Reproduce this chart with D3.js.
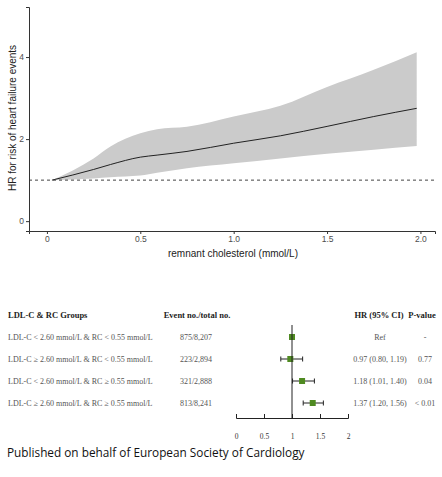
<!DOCTYPE html>
<html><head><meta charset="utf-8">
<script src="https://cdn.jsdelivr.net/npm/d3@7"></script>
<style>body{margin:0;background:#fff;}svg{display:block;}</style>
</head><body>
<svg id="chart" width="442" height="477"></svg>
<script>
// Spline curve data (remnant cholesterol vs HR)
const rcX     = [0.027, 0.25, 0.34, 0.5, 0.59, 0.75, 1.0, 1.25, 1.5, 1.75, 1.98];
const hrLine  = [1.00, 1.26, 1.38, 1.56, 1.61, 1.70, 1.90, 2.08, 2.31, 2.55, 2.75];
const hrUpper = [1.00, 1.53, 1.82, 2.14, 2.24, 2.30, 2.55, 2.81, 3.27, 3.69, 4.12];
const hrLower = [1.00, 1.04, 1.07, 1.11, 1.18, 1.29, 1.41, 1.53, 1.64, 1.74, 1.83];
const xTicks = [0, 0.5, 1.0, 1.5, 2.0];
const yTicks = [0, 2, 4];

// Forest plot data
const groups = ["LDL-C < 2.60 mmol/L & RC < 0.55 mmol/L",
                "LDL-C \u2265 2.60 mmol/L & RC < 0.55 mmol/L",
                "LDL-C < 2.60 mmol/L & RC \u2265 0.55 mmol/L",
                "LDL-C \u2265 2.60 mmol/L & RC \u2265 0.55 mmol/L"];
const events = ["875/8,207", "223/2,894", "321/2,888", "813/8,241"];
const hr     = [1.00, 0.97, 1.18, 1.37];
const ciLow  = [null, 0.80, 1.01, 1.20];
const ciHigh = [null, 1.19, 1.40, 1.56];
const hrText = ["Ref", "0.97 (0.80, 1.19)", "1.18 (1.01, 1.40)", "1.37 (1.20, 1.56)"];
const pText  = ["-", "0.77", "0.04", "< 0.01"];
const forestTicks = [0, 0.5, 1, 1.5, 2];

const svg = d3.select("#chart");

// ---------- Top spline plot ----------
const x = d3.scaleLinear().domain([-0.096, 2.078]).range([29, 435]);
const y = d3.scaleLinear().domain([-0.24, 5.22]).range([231, 7]);

const pts = rcX.map((v,i)=>({x:v, m:hrLine[i], lo:hrLower[i], hi:hrUpper[i]}));
svg.append("path").datum(pts)
  .attr("d", d3.area().x(d=>x(d.x)).y0(d=>y(d.lo)).y1(d=>y(d.hi)).curve(d3.curveMonotoneX))
  .attr("fill", "#cbcbcb");
svg.append("path").datum(pts)
  .attr("d", d3.line().x(d=>x(d.x)).y(d=>y(d.m)).curve(d3.curveMonotoneX))
  .attr("fill", "none").attr("stroke", "#222").attr("stroke-width", 1);

svg.append("line")
  .attr("x1", x.range()[0]).attr("x2", x.range()[1])
  .attr("y1", y(1)).attr("y2", y(1))
  .attr("stroke", "#444").attr("stroke-width", 1).attr("stroke-dasharray", "3,3");

const xAxis = svg.append("g").attr("transform", `translate(0,${y.range()[0]})`)
  .call(d3.axisBottom(x).tickValues(xTicks).tickFormat(d3.format(".1f")).tickSizeOuter(0).tickSize(3).tickPadding(2));
const yAxis = svg.append("g").attr("transform", `translate(${x.range()[0]},0)`)
  .call(d3.axisLeft(y).tickValues(yTicks).tickFormat(d3.format("d")).tickSizeOuter(0).tickSize(3).tickPadding(2));
[xAxis, yAxis].forEach(a=>{
  a.select(".domain").attr("stroke", "#333").attr("stroke-width", 1);
  a.selectAll(".tick line").attr("stroke", "#333");
  a.selectAll(".tick text").attr("fill", "#4d4d4d").attr("font-family", "Liberation Sans, Arial, sans-serif").attr("font-size", 8.5);
});
xAxis.select(".tick text").text("0");

svg.append("text").attr("x", 233).attr("y", 257).attr("text-anchor", "middle")
  .attr("font-family", "Liberation Sans, Arial, sans-serif").attr("font-size", 10).attr("fill", "#222")
  .text("remnant cholesterol (mmol/L)");
svg.append("text").attr("transform", "translate(15.5,118) rotate(-90)").attr("text-anchor", "middle")
  .attr("font-family", "Liberation Sans, Arial, sans-serif").attr("font-size", 10).attr("fill", "#222")
  .text("HR for risk of heart failure events");

// ---------- Forest plot ----------
const serif = "Liberation Serif, Times New Roman, serif";
const fx = d3.scaleLinear().domain([0, 2]).range([236, 348]);
const fy = d3.scalePoint().domain(d3.range(groups.length)).range([337, 403]);
const headY = 318;

const head = [["LDL-C & RC Groups", 8, "start"], ["Event no./total no.", 197, "middle"],
              ["HR (95% CI)", 379, "middle"], ["P-value", 422, "middle"]];
head.forEach(h=>svg.append("text").attr("x", h[1]).attr("y", headY).attr("text-anchor", h[2])
  .attr("font-family", serif).attr("font-weight", "bold").attr("font-size", 8.5).attr("fill", "#222").text(h[0]));

const rowData = groups.map((g,i)=>({i, g, ev:events[i], hr:hr[i], lo:ciLow[i], hi:ciHigh[i], ht:hrText[i], p:pText[i]}));
const rows = svg.append("g").selectAll("g").data(rowData).join("g");
const txt = (sel, xx, anchor, f) => sel.append("text").attr("x", xx).attr("y", d=>fy(d.i)+3)
  .attr("text-anchor", anchor).attr("font-family", serif).attr("font-size", 8).attr("fill", "#555").text(f);
txt(rows, 8, "start", d=>d.g);
txt(rows, 196, "middle", d=>d.ev);
txt(rows, 380, "middle", d=>d.ht);
txt(rows, 425, "middle", d=>d.p);

// reference line
svg.append("line").attr("x1", fx(1)).attr("x2", fx(1)).attr("y1", 325).attr("y2", 418)
  .attr("stroke", "#222").attr("stroke-width", 1);

// CI whiskers
rows.filter(d=>d.lo!==null).each(function(d){
  const g = d3.select(this), yy = fy(d.i);
  g.append("line").attr("x1", fx(d.lo)).attr("x2", fx(d.hi)).attr("y1", yy).attr("y2", yy).attr("stroke", "#222");
  [d.lo, d.hi].forEach(v=>g.append("line").attr("x1", fx(v)).attr("x2", fx(v)).attr("y1", yy-2.5).attr("y2", yy+2.5).attr("stroke", "#222"));
});
rows.append("rect").attr("x", d=>fx(d.hr)-3).attr("y", d=>fy(d.i)-3).attr("width", 6).attr("height", 6)
  .attr("fill", "#4f8a21");

const fAxis = svg.append("g").attr("transform", "translate(0,418)")
  .call(d3.axisBottom(fx).tickValues(forestTicks).tickFormat(d=>String(d)).tickSizeOuter(0).tickSize(-4).tickPadding(16));
fAxis.select(".domain").attr("stroke", "#222");
fAxis.selectAll(".tick line").attr("stroke", "#222");
fAxis.selectAll(".tick text").attr("font-family", serif).attr("font-size", 7.5).attr("fill", "#333");

// footer
svg.append("text").attr("x", 7).attr("y", 457).attr("font-family", "Open Sans, Noto Sans, sans-serif").attr("font-size", 11.8)
  .attr("fill", "#111").text("Published on behalf of European Society of Cardiology");
</script>
</body></html>
